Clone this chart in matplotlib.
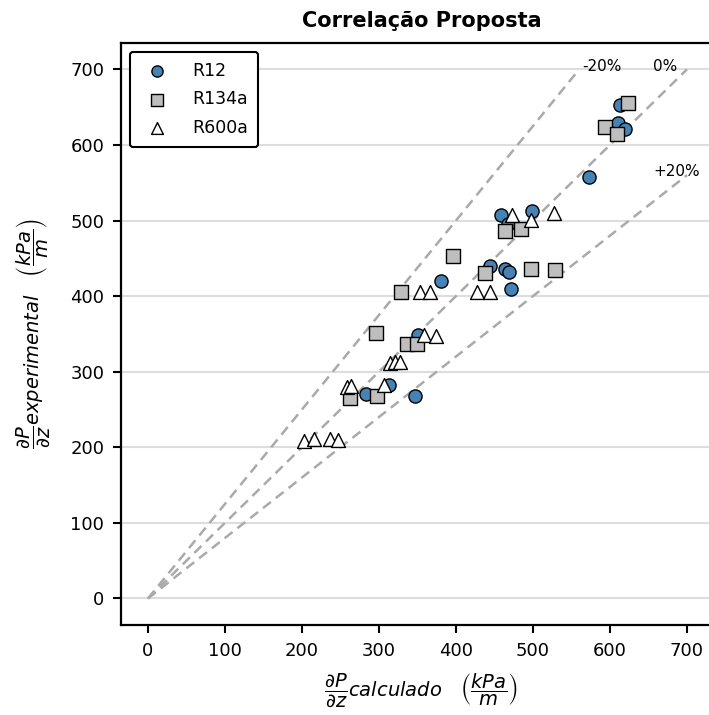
import matplotlib
matplotlib.use("Agg")
import matplotlib.pyplot as plt
import numpy as np

r12_x = [613, 611, 619, 573, 458, 468, 499, 444, 464, 469, 380, 471, 351, 283, 313, 347]
r12_y = [653, 629, 621, 557, 507, 495, 512, 440, 436, 432, 420, 409, 349, 271, 282, 268]

r134a_x = [624, 594, 609, 464, 484, 396, 438, 498, 529, 328, 296, 337, 349, 262, 298]
r134a_y = [656, 624, 614, 486, 489, 453, 431, 436, 434, 405, 351, 336, 336, 265, 268]

r600a_x = [473, 497, 527, 353, 366, 427, 444, 358, 374, 314, 321, 327, 259, 264, 307, 203, 216, 236, 247]
r600a_y = [507, 501, 510, 406, 406, 406, 406, 348, 347, 312, 313, 313, 280, 281, 282, 208, 211, 211, 210]

ref_x = [0, 700]
lim_minus = [0, 560]   # -20% line x-end (y reaches 700)
lim_plus = [0, 560]    # +20% line y-end (x reaches 700)

fig = plt.figure(figsize=(7.09, 7.15), dpi=100)
ax = fig.add_axes([0.1707, 0.126, 0.8471, 0.814])

ax.set_axisbelow(True)
ax.yaxis.grid(True, color='#dddddd', lw=1.5)

dash_kw = dict(color='#aaaaaa', lw=1.8, ls=(0, (4, 2.5)), zorder=1)
ax.plot(lim_minus, [0, 700], **dash_kw)
ax.plot(ref_x, [0, 700], **dash_kw)
ax.plot(ref_x, lim_plus, **dash_kw)

ax.scatter(r12_x, r12_y, s=90, marker='o', facecolor='#4682B4', edgecolor='black', lw=1, label='R12', zorder=3)
ax.scatter(r134a_x, r134a_y, s=90, marker='s', facecolor='#BEBEBE', edgecolor='black', lw=1, label='R134a', zorder=3)
ax.scatter(r600a_x, r600a_y, s=100, marker='^', facecolor='white', edgecolor='black', lw=1, label='R600a', zorder=3)

ax.set_xlim(-35, 745)
ax.set_ylim(-35, 735)

ax.text(590, 704, '-20%', ha='center', va='center', fontsize=11)
ax.text(671, 704, '0%', ha='center', va='center', fontsize=11)
ax.text(686, 565, '+20%', ha='center', va='center', fontsize=11)

ax.set_xticks(range(0, 800, 100))
ax.set_yticks(range(0, 800, 100))
ax.tick_params(labelsize=13, width=1.5, length=6, pad=6)
for s in ax.spines.values():
    s.set_linewidth(1.6)

ax.set_title('Correlação Proposta', fontsize=15, fontweight='bold', pad=11.5)
ax.set_xlabel(r'$\dfrac{\partial P}{\partial z} calculado \quad \left(\dfrac{kPa}{m}\right)$', fontsize=14, labelpad=9)
ax.set_ylabel(r'$\dfrac{\partial P}{\partial z} experimental \quad \left(\dfrac{kPa}{m}\right)$', fontsize=14, labelpad=13)

leg = ax.legend(loc='upper left', fontsize=12.5, frameon=True, fancybox=True, borderpad=0.6,
                labelspacing=0.6, markerscale=0.85, handletextpad=1.0)
leg.get_frame().set_edgecolor('black')
leg.get_frame().set_linewidth(1.5)
leg.get_frame().set_alpha(1)

fig.savefig('out.png', dpi=100)
